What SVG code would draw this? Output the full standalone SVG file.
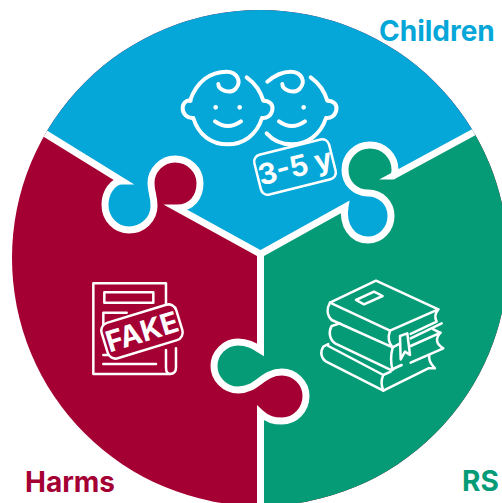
<svg xmlns="http://www.w3.org/2000/svg" width="502" height="503" viewBox="0 0 502 503">
<style>
text{font-family:"Inter","Liberation Sans",sans-serif;font-weight:700}
.ic{fill:none;stroke:#fff;stroke-linecap:round;stroke-linejoin:round}
.seam{fill:none;stroke:#fff;stroke-width:7;stroke-linejoin:miter;stroke-miterlimit:12}
</style>
<defs><clipPath id="disc"><circle cx="260" cy="258" r="248"/></clipPath></defs>
<rect width="502" height="503" fill="#fff"/>
<g id="harms">
<circle cx="260" cy="258" r="248" fill="#a50034"/>
</g>
<g id="rs">
<path fill="#059b76" clip-path="url(#disc)" d="M260.5,510 V413 C268,420 274,421 282,421 C295,421 306,410 306,396 C306,383 295,372 282,372 C262,372 258,390 238,390 C225,390 214,379 214,366 C214,353 225,342 238,342 C248,342 254,346 260.5,350 V254 L345,207 C342,225 352,240 368,240 C381,240 391,229 391,216 C391,203 381,193 368,193 C355,193 345,183 345,170 C345,156 356,145 370,145 C384,145 395,156 395,170 C395,173 394,176 393,176 L500,118 L520,118 V510 Z"/>
</g>
<g id="children">
<path fill="#05a6d8" clip-path="url(#disc)" d="M20,118 L122,181 C113,181 105,192 105,205 C105,219 116,230 129,230 C143,230 154,219 154,206 C154,196 151,192 151,183 C151,170 162,159 175,159 C189,159 200,170 200,183 C200,197 192,208 177,208 L260.5,254 L345,207 C342,225 352,240 368,240 C381,240 391,229 391,216 C391,203 381,193 368,193 C355,193 345,183 345,170 C345,156 356,145 370,145 C384,145 395,156 395,170 C395,173 394,176 393,176 L500,118 L500,0 L20,0 Z"/>
</g>
<g id="connectors" clip-path="url(#disc)">
<path class="seam" d="M20,118 L122,181 C113,181 105,192 105,205 C105,219 116,230 129,230 C143,230 154,219 154,206 C154,196 151,192 151,183 C151,170 162,159 175,159 C189,159 200,170 200,183 C200,197 192,208 177,208 L260.5,254"/>
<path class="seam" d="M260.5,254 L345,207 C342,225 352,240 368,240 C381,240 391,229 391,216 C391,203 381,193 368,193 C355,193 345,183 345,170 C345,156 356,145 370,145 C384,145 395,156 395,170 C395,173 394,176 393,176 L500,118"/>
<path class="seam" d="M260.5,510 V413 C268,420 274,421 282,421 C295,421 306,410 306,396 C306,383 295,372 282,372 C262,372 258,390 238,390 C225,390 214,379 214,366 C214,353 225,342 238,342 C248,342 254,346 260.5,350 V254"/>
</g>
<g id="babies" class="ic" stroke-width="12" transform="translate(150,40) scale(.3333)">
<path d="M120,182 C140,125 180,95 230,95 C262,95 275,125 258,145 C240,165 205,150 205,132"/>
<path d="M290,112 C315,130 332,155 340,182 C360,182 370,195 367,210 C363,228 350,236 336,234 C320,285 280,313 233,313 C185,313 145,285 130,234 C112,236 98,222 98,205 C98,190 108,180 122,182"/>
<path d="M195,244 Q233,272 273,244"/>
<path d="M352,125 C375,105 400,95 422,95 C455,95 468,125 450,145 C432,165 397,150 397,132"/>
<path d="M482,112 C507,130 524,155 532,182 C552,182 562,195 559,210 C555,228 542,236 528,234 C512,285 470,313 425,313 C395,313 368,300 350,280"/>
<path d="M387,244 Q425,272 465,244"/>
<circle cx="197" cy="202" r="5" fill="#fff" stroke-width="4"/>
<circle cx="269" cy="202" r="5" fill="#fff" stroke-width="4"/>
<circle cx="461" cy="202" r="5" fill="#fff" stroke-width="4"/>
</g>
<g id="age-label">
<rect x="256.5" y="146.500" width="77" height="41" rx="7" fill="#05a6d8" stroke="#fff" stroke-width="2.500" transform="rotate(-14 295 167)"/>
<text x="295" y="177" font-size="29" fill="#fff" text-anchor="middle" transform="rotate(-14 295 167)">3-5 y</text>
</g>
<g id="fake-icon">
<g class="ic" stroke-width="7.500" transform="translate(70,260) scale(.3333)">
<path d="M288,140 V70 H70 V342 H300 C312,342 318,335 318,322 V265"/>
<path d="M288,270 V322 C288,335 292,342 300,342"/>
<rect x="103" y="97" width="147" height="31"/>
<path d="M100,200 V158 H170"/>
<path d="M100,285 H115"/>
<path d="M100,312 H258"/>
</g>
<rect x="103" y="313" width="78" height="37" rx="8" fill="#a50034" stroke="#fff" stroke-width="2.500" transform="rotate(-17 142 331.500)"/>
<text x="142" y="342" font-size="29" fill="#fff" text-anchor="middle" transform="rotate(-17 142 331.500)">FAKE</text>
</g>
<g id="books-icon" class="ic" stroke-width="7.500" transform="translate(300,260) scale(.3333)">
<path d="M228,62 L415,148 L270,212 L90,128 Z"/>
<path d="M168,120 L222,95 L248,108 L192,133 Z"/>
<path d="M90,128 C80,145 80,165 95,180 L278,262"/>
<path d="M270,212 C264,230 266,250 278,262 L298,252"/>
<path d="M415,148 C405,160 403,172 410,185 L332,222"/>
<path d="M425,190 L332,235 M420,218 L400,208 M332,258 L422,218 C405,235 408,252 430,265 L332,308"/>
<path d="M300,228 L322,220 L330,285 L315,275 L302,298 Z"/>
<path d="M120,190 L95,198 C85,215 88,238 105,250 L272,330 L305,315"/>
<path d="M278,262 C272,285 272,310 278,330"/>
<path d="M85,252 L70,260 C60,275 62,295 80,306 L250,392 L385,325 L405,325 C390,310 385,298 388,285"/>
<path d="M250,345 C243,360 245,380 250,392 M250,345 L85,258 M250,345 L272,335"/>
</g>
<text x="379" y="41" font-size="28" fill="#05a6d8">Children</text>
<text x="25" y="492" font-size="28" fill="#a50034">Harms</text>
<text x="462" y="491" font-size="28" fill="#059b76">RS</text>
</svg>
